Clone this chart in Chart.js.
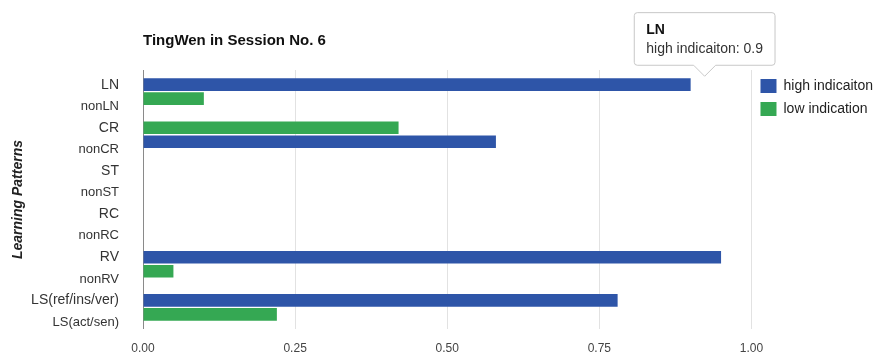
<!DOCTYPE html>
<html>
<head>
<meta charset="utf-8">
<script src="https://cdn.jsdelivr.net/npm/chart.js@4/dist/chart.umd.min.js"></script>
<style>
  html, body { margin: 0; padding: 0; background: #fff; }
  #wrap { width: 883px; height: 354px; }
</style>
</head>
<body>
<div id="wrap"><canvas id="chart"></canvas></div>
<script>
// learning patterns, each shown with its opposite underneath
var patterns = ["LN", "CR", "ST", "RC", "RV", "LS(ref/ins/ver)"];
var axisLabels = ["LN", "nonLN", "CR", "nonCR", "ST", "nonST", "RC", "nonRC", "RV", "nonRV", "LS(ref/ins/ver)", "LS(act/sen)"];
var highValues = [0.9, 0.58, 0, 0, 0.95, 0.78];
var lowValues = [0.1, 0.42, 0, 0, 0.05, 0.22];
// CR draws the low bar in the upper slot
var lowOnTop = [false, true, false, false, false, false];
var xTicks = [0, 0.25, 0.5, 0.75, 1];

var BLUE = "#2e55a8";
var GREEN = "#35a853";

Chart.defaults.font.family = "'Liberation Sans', Arial, sans-serif";

function pick(values, wantTop, isLow) {
  return values.map(function (v, i) {
    var top = isLow ? lowOnTop[i] : !lowOnTop[i];
    return top === wantTop ? v : null;
  });
}

// tooltip sits above the end of the bar
Chart.Tooltip.positioners.barEnd = function (items) {
  if (!items.length) return false;
  var el = items[0].element;
  return { x: el.x + 14, y: el.y - el.height / 2 };
};

var chart = new Chart(document.getElementById("chart").getContext("2d"), {
  type: "bar",
  data: {
    labels: patterns,
    datasets: [
      { label: "high indicaiton", data: pick(highValues, true, false), backgroundColor: BLUE, stack: "top" },
      { label: "low indication", data: pick(lowValues, false, true), backgroundColor: GREEN, stack: "bottom" },
      { label: "low indication", data: pick(lowValues, true, true), backgroundColor: GREEN, stack: "top" },
      { label: "high indicaiton", data: pick(highValues, false, false), backgroundColor: BLUE, stack: "bottom" },
    ],
  },
  options: {
    indexAxis: "y",
    responsive: true,
    maintainAspectRatio: false,
    animation: false,
    events: [],
    categoryPercentage: 0.65,
    barPercentage: 0.9,
    layout: { padding: 0 },
    scales: {
      x: {
        stacked: true,
        min: 0,
        max: 1,
        afterBuildTicks: function (s) {
          s.ticks = xTicks.map(function (v) { return { value: v }; });
        },
        afterFit: function (s) { s.height = 25; },
        ticks: {
          callback: function (v) { return Number(v).toFixed(2); },
          color: "#444",
          font: { size: 12 },
          padding: 12,
          maxRotation: 0,
        },
        grid: {
          drawTicks: false,
          color: function (ctx) { return ctx.tick && ctx.tick.value === 0 ? "#8a8a8a" : "#e2e2e2"; },
        },
        border: { display: false },
      },
      y: { display: false, stacked: true },
      y2: {
        type: "category",
        labels: axisLabels,
        position: "left",
        offset: true,
        grid: { display: false },
        border: { display: false },
        ticks: {
          autoSkip: false,
          color: "#333",
          padding: 16,
          labelOffset: 4,
          font: function (ctx) { return { size: ctx.index % 2 ? 13 : 14 }; },
        },
        title: {
          display: true,
          text: "Learning Patterns",
          color: "#222",
          font: { size: 14, style: "italic", weight: "bold" },
          padding: { top: 10, bottom: 0 },
        },
        afterFit: function (s) { s.width = 143; },
      },
    },
    plugins: {
      title: {
        display: true,
        text: "TingWen in Session No. 6",
        align: "start",
        fullSize: false,
        color: "#111",
        font: { size: 15, weight: "bold" },
        padding: { top: 32, bottom: 20 },
      },
      legend: {
        position: "right",
        align: "start",
        fullSize: false,
        maxWidth: 132,
        labels: {
          boxWidth: 16,
          boxHeight: 14,
          padding: 9,
          color: "#222",
          font: { size: 14 },
          filter: function (item) { return item.datasetIndex < 2; },
        },
      },
      tooltip: {
        position: "barEnd",
        xAlign: "center",
        yAlign: "bottom",
        backgroundColor: "#fff",
        borderColor: "#c8c8c8",
        borderWidth: 1,
        cornerRadius: 3,
        caretSize: 11,
        caretPadding: 2,
        displayColors: false,
        titleColor: "#111",
        titleFont: { size: 14, weight: "bold" },
        titleMarginBottom: 2,
        bodyColor: "#333",
        bodyFont: { size: 14 },
        padding: { top: 9, bottom: 8, left: 12, right: 12 },
      },
    },
  },
});

chart.tooltip.setActiveElements([{ datasetIndex: 0, index: 0 }], { x: 0, y: 0 });
chart.update();
</script>
</body>
</html>
